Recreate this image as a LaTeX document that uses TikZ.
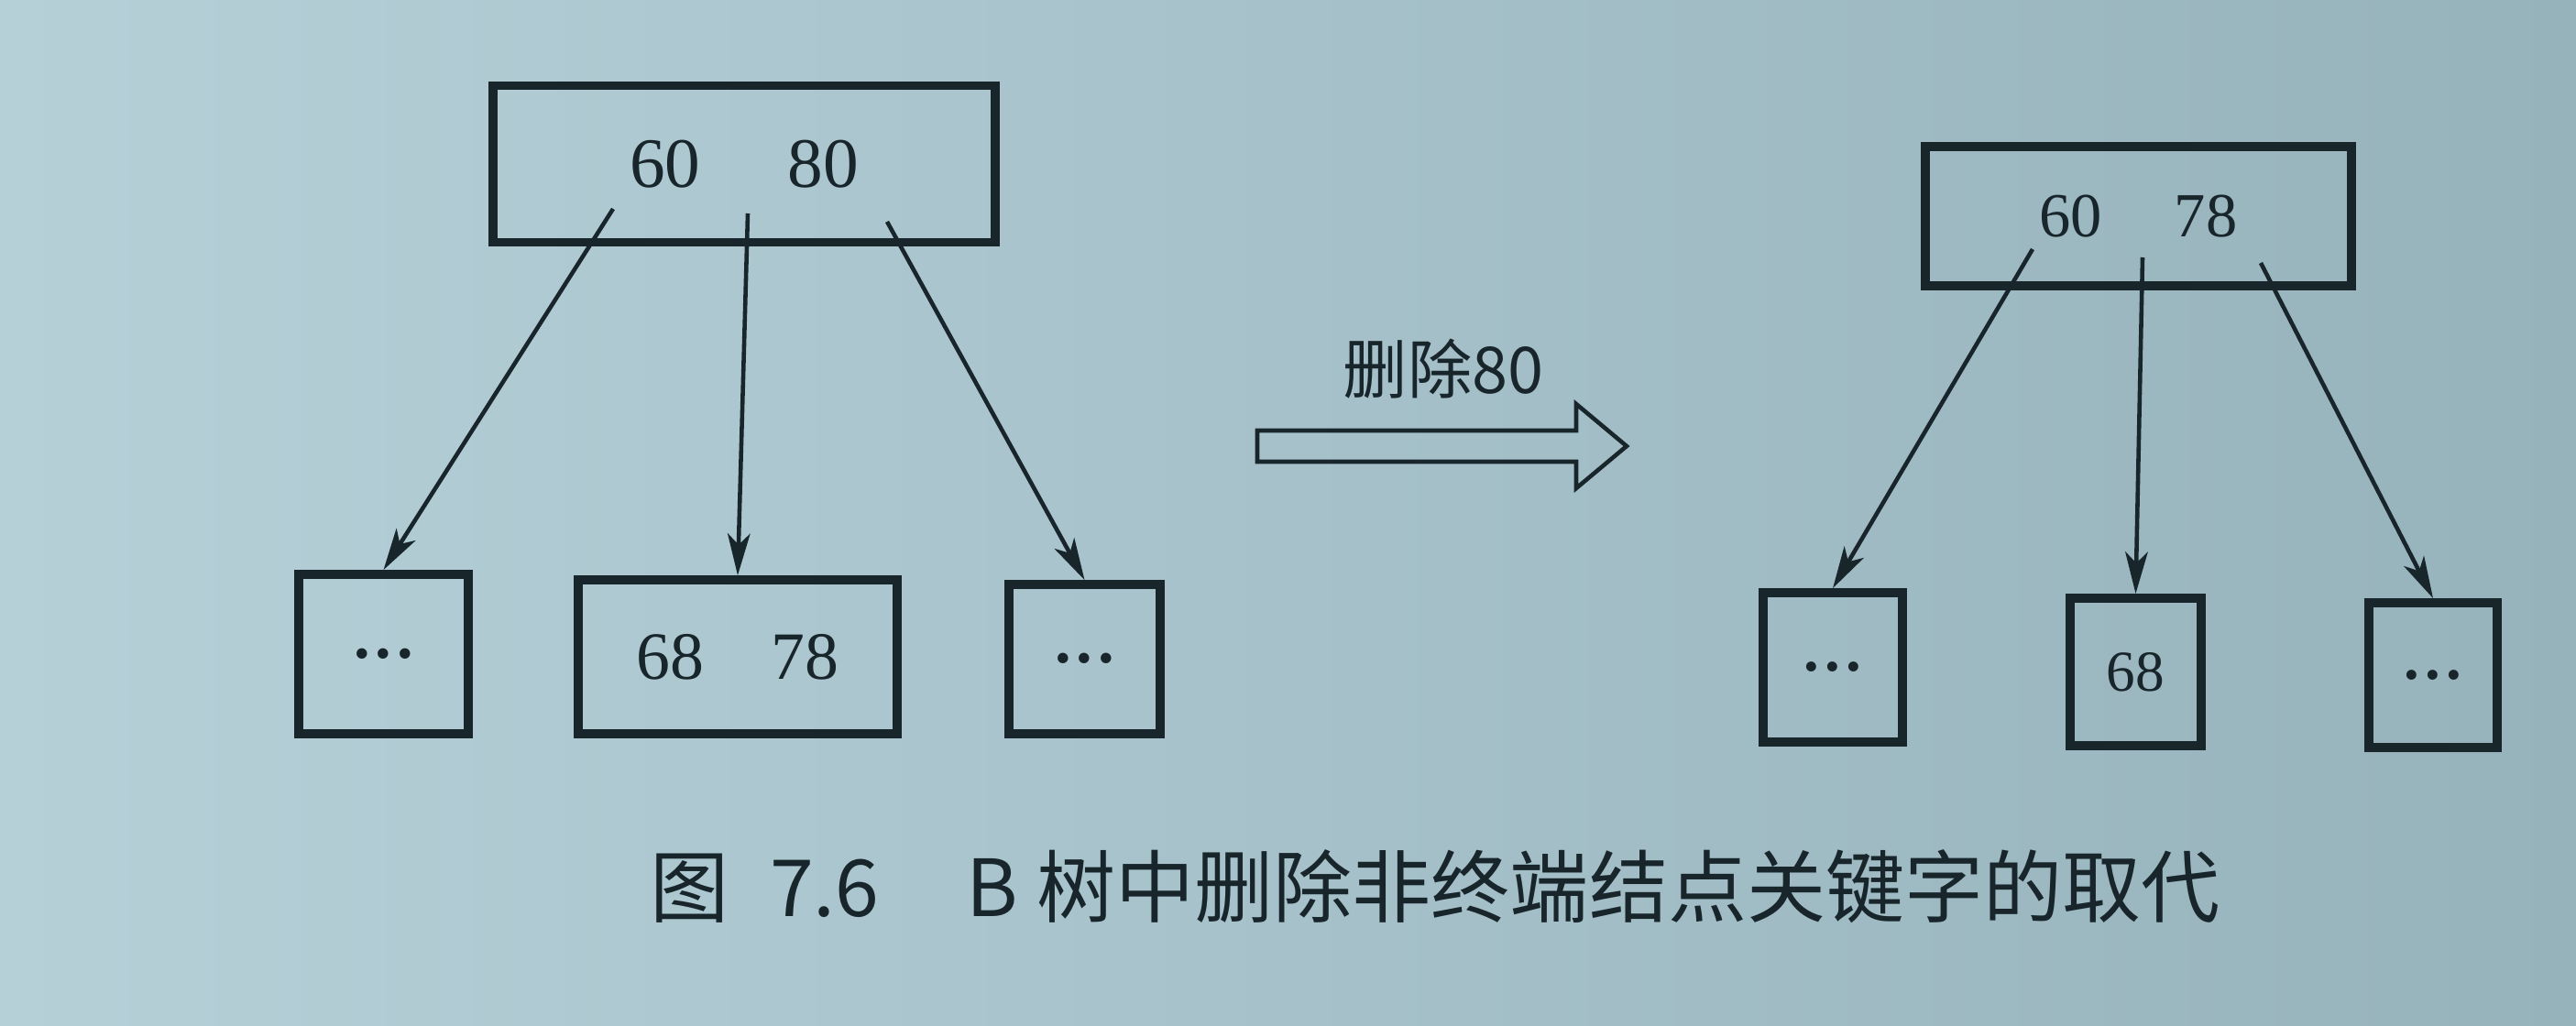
\documentclass[tikz,border=0pt]{standalone}
\usepackage{fontspec}
\setmainfont{Liberation Serif}
\newfontfamily\cjk{Noto Sans CJK SC}
\usetikzlibrary{arrows.meta}
\definecolor{paperL}{RGB}{182,208,216}
\definecolor{paperR}{RGB}{150,178,187}
\definecolor{ink}{RGB}{24,38,44}
\newcommand{\dotsbox}{\raisebox{-0.06em}[0pt][0pt]{\bfseries .\hspace{0.06cm}.\hspace{0.06cm}.}}

\begin{document}
\begin{tikzpicture}[ink,
	keybox/.style={draw=ink,line width=2.8pt,inner sep=0pt},
	ptr/.style={draw=ink,line width=1.3pt,-{Stealth[length=13pt,width=7pt,inset=3.5pt]}},
	fatarrow/.style={draw=ink,line width=1.3pt,line join=miter}]
	%paper
	\fill[left color=paperL,right color=paperR] (0,0) rectangle (28.11,11.19); %background

	%before deletion----------------------------------------------
	\node[keybox,minimum width=5.48cm,minimum height=1.71cm,font=\fontsize{22}{24}\selectfont] (lroot) at (8.12,9.40) {60\hspace{0.95cm}80}; %root
	\node[keybox,minimum width=1.85cm,minimum height=1.74cm,font=\fontsize{20}{22}\selectfont] (lca) at (4.185,4.05) {\dotsbox}; %child 1
	\node[keybox,minimum width=3.48cm,minimum height=1.68cm,font=\fontsize{21}{23}\selectfont] (lcb) at (8.05,4.02) {68\hspace{0.74cm}78}; %child 2
	\node[keybox,minimum width=1.65cm,minimum height=1.63cm,font=\fontsize{20}{22}\selectfont] (lcc) at (11.835,3.995) {\dotsbox}; %child 3
		%pointers
		\coordinate (lpa) at (6.69,8.91); %pointer 1
		\coordinate (lpb) at (8.16,8.86); %pointer 2
		\coordinate (lpc) at (9.68,8.77); %pointer 3
		\draw[ptr] (lpa) -- (lca.north);
		\draw[ptr] (lpb) -- (lcb.north);
		\draw[ptr] (lpc) -- (lcc.north);

	%delete arrow-------------------------------------------------
	\coordinate (arrw) at (13.72,6.32); %arrow start
	\draw[fatarrow] (arrw) ++(0,0.17) -- ++(3.48,0) -- ++(0,0.29) -- ++(0.55,-0.46) -- ++(-0.55,-0.46) -- ++(0,0.29) -- ++(-3.48,0) -- cycle; %hollow arrow
	\node[font=\cjk\fontsize{20}{22}\selectfont] (dellabel) at (15.75,7.16) {删除80}; %arrow label

	%after deletion-----------------------------------------------
	\node[keybox,minimum width=4.65cm,minimum height=1.52cm,font=\fontsize{19.5}{22}\selectfont] (rroot) at (23.335,8.83) {60\hspace{0.79cm}78}; %root
	\node[keybox,minimum width=1.52cm,minimum height=1.63cm,font=\fontsize{19}{21}\selectfont] (rca) at (20.00,3.905) {\dotsbox}; %child 1
	\node[keybox,minimum width=1.43cm,minimum height=1.61cm,font=\fontsize{18}{20}\selectfont] (rcb) at (23.305,3.855) {68}; %child 2
	\node[keybox,minimum width=1.40cm,minimum height=1.58cm,font=\fontsize{19}{21}\selectfont] (rcc) at (26.55,3.82) {\dotsbox}; %child 3
		%pointers
		\coordinate (rpa) at (22.18,8.47); %pointer 1
		\coordinate (rpb) at (23.38,8.38); %pointer 2
		\coordinate (rpc) at (24.67,8.32); %pointer 3
		\draw[ptr] (rpa) -- (rca.north);
		\draw[ptr] (rpb) -- (rcb.north);
		\draw[ptr] (rpc) -- (rcc.north);

	%caption
	\node[font=\cjk\fontsize{24.5}{27}\selectfont] (caption) at (15.66,1.51) {图\hspace{0.45cm}7.6\hspace{0.95cm}B\hspace{0.2cm}树中删除非终端结点关键字的取代}; %figure caption
\end{tikzpicture}
\end{document}
